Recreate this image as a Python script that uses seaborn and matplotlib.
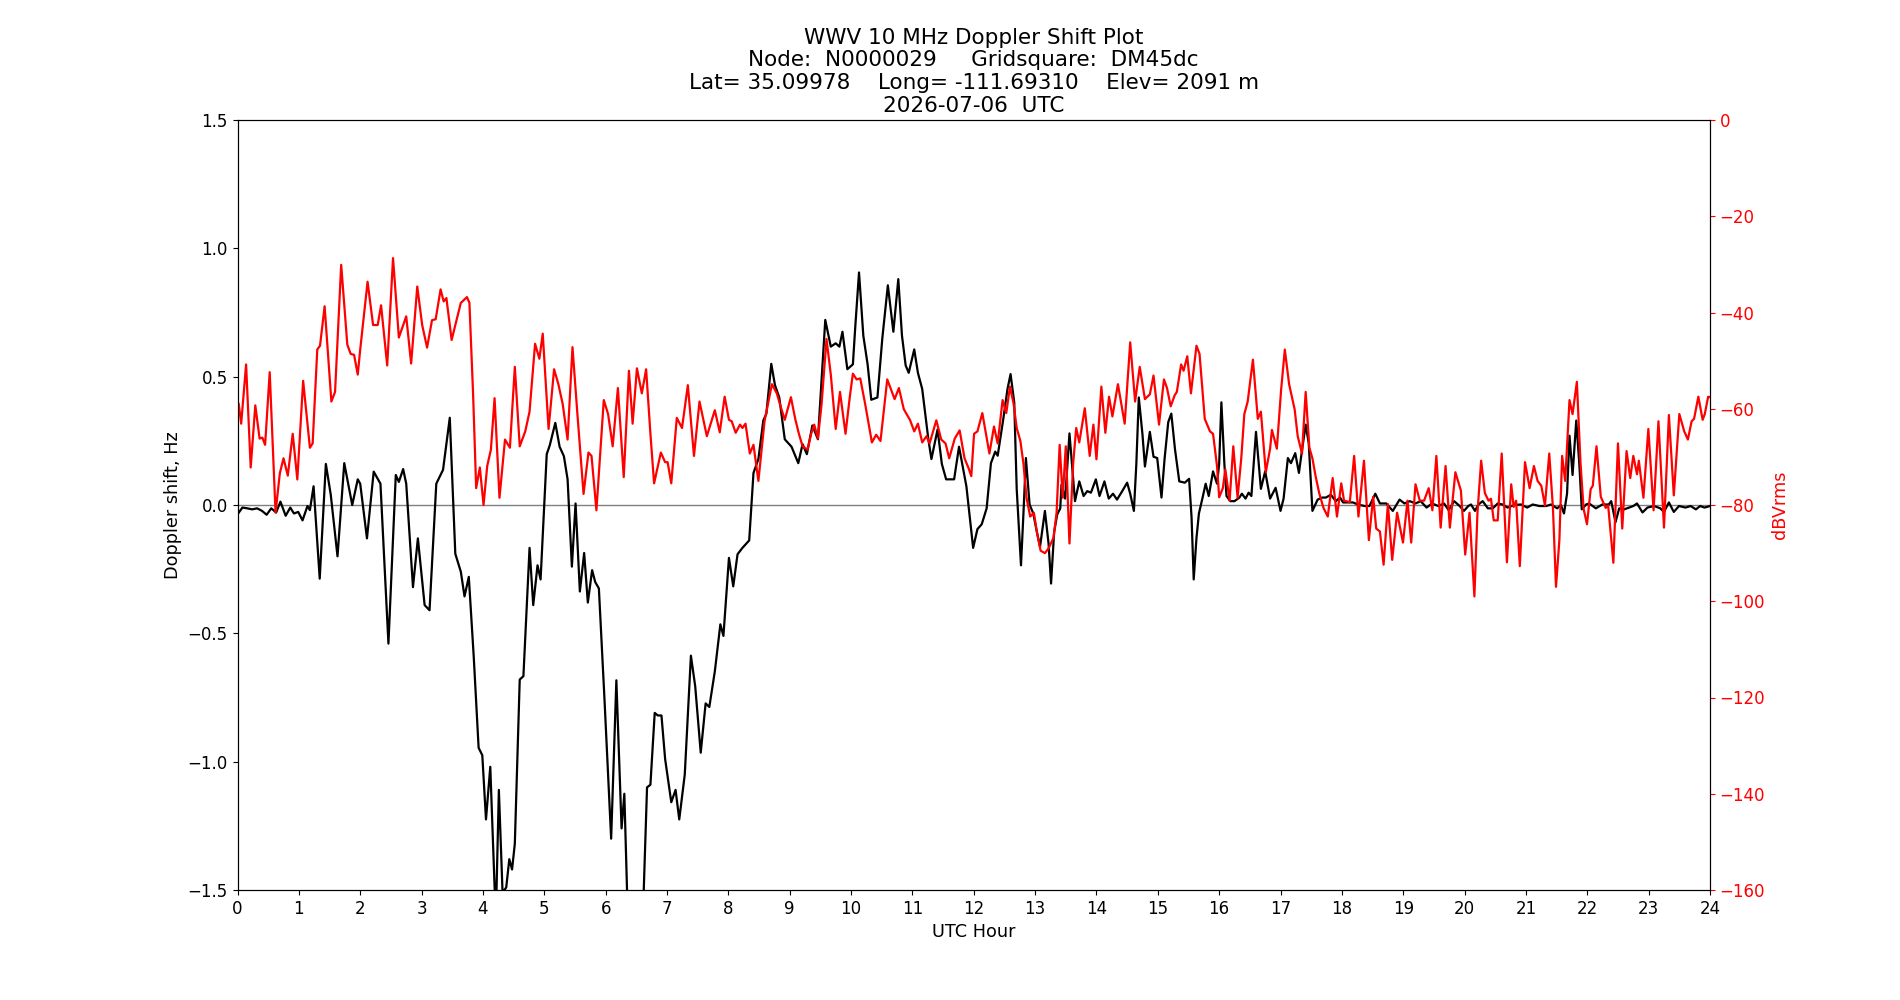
import pandas as pd
import matplotlib
matplotlib.use("Agg")

import matplotlib.pyplot as plt
import seaborn as sns

# doppler trace (black), hours UTC / Hz
doppler_hours = [
    0.02, 0.08, 0.16, 0.24, 0.32, 0.40, 0.475, 0.55, 0.63, 0.70, 0.785, 0.86, 0.92, 0.99,
    1.06, 1.14, 1.18, 1.24, 1.34, 1.44, 1.52, 1.63, 1.74, 1.87, 1.96, 2.0, 2.11, 2.22,
    2.33, 2.46, 2.58, 2.63, 2.70, 2.75, 2.86, 2.94, 3.05, 3.13, 3.24, 3.35, 3.46, 3.55,
    3.64, 3.70, 3.77, 3.85, 3.93, 3.99, 4.05, 4.12, 4.21, 4.26, 4.32, 4.38, 4.43, 4.475,
    4.52, 4.60, 4.66, 4.76, 4.82, 4.89, 4.94, 5.04, 5.09, 5.18, 5.25, 5.32, 5.38, 5.45,
    5.51, 5.58, 5.65, 5.71, 5.78, 5.83, 5.89, 5.98, 6.09, 6.175, 6.26, 6.305, 6.35, 6.48,
    6.62, 6.675, 6.73, 6.80, 6.85, 6.91, 6.97, 7.07, 7.14, 7.20, 7.29, 7.39, 7.46, 7.55,
    7.63, 7.69, 7.78, 7.87, 7.92, 8.01, 8.08, 8.15, 8.23, 8.34, 8.41, 8.49, 8.57, 8.62,
    8.70, 8.76, 8.83, 8.92, 9.03, 9.14, 9.21, 9.28, 9.37, 9.46, 9.58, 9.67, 9.75, 9.81,
    9.86, 9.94, 10.03, 10.07, 10.13, 10.20, 10.27, 10.33, 10.43, 10.51, 10.60, 10.69, 10.77, 10.83,
    10.89, 10.94, 11.03, 11.09, 11.16, 11.26, 11.31, 11.41, 11.48, 11.55, 11.64, 11.68, 11.76, 11.83,
    11.88, 11.99, 12.06, 12.13, 12.21, 12.28, 12.35, 12.39, 12.48, 12.55, 12.60, 12.66, 12.70, 12.77,
    12.81, 12.85, 12.91, 12.97, 13.02, 13.08, 13.16, 13.22, 13.26, 13.31, 13.36, 13.41, 13.43, 13.49,
    13.56, 13.65, 13.72, 13.79, 13.85, 13.91, 13.99, 14.05, 14.13, 14.20, 14.27, 14.335, 14.42, 14.50,
    14.55, 14.61, 14.65, 14.69, 14.75, 14.79, 14.87, 14.93, 14.99, 15.06, 15.11, 15.17, 15.22, 15.28,
    15.35, 15.44, 15.51, 15.55, 15.585, 15.63, 15.67, 15.73, 15.78, 15.83, 15.90, 15.965, 16.0, 16.036,
    16.085, 16.12, 16.18, 16.25, 16.33, 16.37, 16.43, 16.48, 16.525, 16.60, 16.68, 16.75, 16.83, 16.92,
    17.0, 17.05, 17.12, 17.17, 17.24, 17.30, 17.35, 17.41, 17.46, 17.52, 17.605, 17.68, 17.74, 17.82,
    17.90, 17.97, 18.02, 18.10, 18.18, 18.26, 18.37, 18.45, 18.545, 18.62, 18.725, 18.83, 18.94, 19.02,
    19.105, 19.20, 19.285, 19.38, 19.47, 19.57, 19.665, 19.74, 19.83, 19.92, 19.99, 20.06, 20.105, 20.17,
    20.225, 20.295, 20.38, 20.46, 20.54, 20.62, 20.70, 20.81, 20.92, 21.02, 21.11, 21.22, 21.33, 21.41,
    21.51, 21.57, 21.62, 21.67, 21.71, 21.76, 21.82, 21.87, 21.91, 21.98, 22.03, 22.14, 22.245, 22.35,
    22.39, 22.46, 22.52, 22.60, 22.68, 22.75, 22.81, 22.90, 22.98, 23.09, 23.19, 23.25, 23.33, 23.41,
    23.495, 23.60, 23.685, 23.77, 23.84, 23.91, 24.0,
]
doppler_hz = [
    -0.03, -0.01, -0.013, -0.017, -0.013, -0.023, -0.038, -0.013, -0.029, 0.013, -0.042, -0.01, -0.033, -0.027,
    -0.06, -0.004, -0.02, 0.073, -0.287, 0.16, 0.04, -0.2, 0.163, 0.0, 0.10, 0.083, -0.13, 0.13,
    0.083, -0.54, 0.117, 0.09, 0.14, 0.083, -0.32, -0.13, -0.39, -0.41, 0.083, 0.137, 0.34, -0.19,
    -0.26, -0.356, -0.28, -0.59, -0.946, -0.975, -1.225, -1.02, -1.62, -1.11, -1.51, -1.49, -1.38, -1.42,
    -1.32, -0.68, -0.667, -0.167, -0.39, -0.235, -0.29, 0.198, 0.233, 0.32, 0.227, 0.19, 0.10, -0.24,
    0.006, -0.337, -0.187, -0.38, -0.254, -0.30, -0.325, -0.75, -1.30, -0.683, -1.26, -1.125, -1.51, -1.76,
    -1.51, -1.10, -1.09, -0.81, -0.82, -0.82, -0.99, -1.158, -1.11, -1.225, -1.05, -0.587, -0.706, -0.965,
    -0.773, -0.787, -0.648, -0.465, -0.51, -0.206, -0.317, -0.192, -0.167, -0.138, 0.125, 0.179, 0.329, 0.356,
    0.55, 0.467, 0.419, 0.256, 0.227, 0.163, 0.237, 0.198, 0.31, 0.256, 0.721, 0.617, 0.63, 0.617,
    0.675, 0.529, 0.548, 0.698, 0.906, 0.66, 0.548, 0.41, 0.419, 0.65, 0.856, 0.675, 0.88, 0.66,
    0.544, 0.515, 0.606, 0.515, 0.452, 0.256, 0.179, 0.294, 0.16, 0.10, 0.10, 0.10, 0.227, 0.137,
    0.073, -0.167, -0.094, -0.075, -0.013, 0.163, 0.208, 0.192, 0.333, 0.452, 0.51, 0.40, 0.063, -0.235,
    -0.033, 0.183, 0.002, -0.033, -0.094, -0.163, -0.023, -0.152, -0.306, -0.106, -0.037, -0.013, 0.079, 0.025,
    0.279, 0.015, 0.092, 0.035, 0.054, 0.048, 0.10, 0.035, 0.092, 0.025, 0.044, 0.021, 0.054, 0.087,
    0.044, -0.023, 0.16, 0.419, 0.275, 0.15, 0.285, 0.188, 0.183, 0.029, 0.179, 0.323, 0.356, 0.217,
    0.092, 0.087, 0.102, -0.048, -0.29, -0.129, -0.033, 0.029, 0.083, 0.035, 0.131, 0.083, 0.16, 0.40,
    0.16, 0.035, 0.015, 0.015, 0.029, 0.044, 0.025, 0.048, 0.035, 0.285, 0.063, 0.131, 0.025, 0.067,
    -0.023, 0.025, 0.183, 0.163, 0.202, 0.125, 0.213, 0.313, 0.24, -0.023, 0.021, 0.029, 0.029, 0.04,
    0.015, 0.029, 0.01, 0.01, 0.01, 0.002, -0.004, -0.004, 0.044, 0.006, 0.006, -0.023, 0.021, 0.006,
    0.015, 0.006, 0.015, -0.01, 0.006, -0.004, 0.006, -0.02, 0.015, -0.004, -0.023, -0.004, 0.002, -0.023,
    0.002, 0.015, -0.013, -0.013, 0.006, 0.002, -0.01, 0.0, 0.002, -0.01, 0.002, -0.004, -0.004, 0.002,
    -0.013, 0.0, -0.033, 0.044, 0.27, 0.117, 0.329, 0.16, -0.017, 0.002, 0.006, -0.013, 0.002, 0.002,
    0.015, -0.067, -0.013, -0.017, -0.01, -0.004, 0.006, -0.029, -0.01, -0.004, -0.013, -0.027, 0.01, -0.027,
    -0.004, -0.01, -0.004, -0.017, -0.004, -0.01, -0.004,
]

# signal level trace (red), hours UTC / dBVrms
power_hours = [
    0.02, 0.06, 0.14, 0.215, 0.29, 0.36, 0.405, 0.45, 0.525, 0.62, 0.69, 0.75, 0.82, 0.90,
    0.975, 1.07, 1.18, 1.225, 1.30, 1.345, 1.42, 1.53, 1.59, 1.69, 1.79, 1.845, 1.90, 1.96,
    2.0, 2.12, 2.21, 2.285, 2.34, 2.44, 2.535, 2.63, 2.75, 2.83, 2.93, 3.01, 3.09, 3.17,
    3.23, 3.31, 3.36, 3.405, 3.49, 3.57, 3.64, 3.74, 3.78, 3.84, 3.89, 3.95, 4.01, 4.07,
    4.13, 4.19, 4.27, 4.36, 4.44, 4.52, 4.60, 4.69, 4.76, 4.85, 4.92, 4.975, 5.07, 5.16,
    5.23, 5.30, 5.38, 5.46, 5.54, 5.64, 5.72, 5.77, 5.85, 5.97, 6.04, 6.115, 6.20, 6.295,
    6.38, 6.44, 6.51, 6.59, 6.66, 6.73, 6.79, 6.90, 6.97, 7.01, 7.07, 7.16, 7.245, 7.34,
    7.44, 7.53, 7.65, 7.78, 7.86, 7.94, 8.01, 8.055, 8.12, 8.19, 8.23, 8.28, 8.35, 8.41,
    8.49, 8.59, 8.71, 8.79, 8.84, 8.92, 9.02, 9.09, 9.15, 9.21, 9.29, 9.35, 9.40, 9.46,
    9.52, 9.60, 9.67, 9.75, 9.82, 9.91, 9.98, 10.03, 10.09, 10.15, 10.23, 10.34, 10.41, 10.48,
    10.59, 10.71, 10.78, 10.86, 10.96, 11.03, 11.09, 11.16, 11.23, 11.28, 11.39, 11.47, 11.54, 11.60,
    11.69, 11.77, 11.85, 11.92, 11.96, 12.005, 12.06, 12.14, 12.255, 12.33, 12.39, 12.47, 12.53, 12.59,
    12.65, 12.70, 12.76, 12.81, 12.86, 12.92, 12.98, 13.03, 13.09, 13.16, 13.22, 13.30, 13.35, 13.40,
    13.45, 13.50, 13.56, 13.62, 13.67, 13.72, 13.81, 13.89, 13.95, 14.0, 14.08, 14.145, 14.205, 14.26,
    14.35, 14.46, 14.55, 14.63, 14.705, 14.79, 14.87, 14.93, 15.02, 15.10, 15.15, 15.21, 15.275, 15.31,
    15.38, 15.42, 15.48, 15.54, 15.63, 15.68, 15.765, 15.85, 15.90, 15.965, 16.0, 16.06, 16.10, 16.17,
    16.23, 16.30, 16.36, 16.41, 16.465, 16.55, 16.63, 16.68, 16.76, 16.83, 16.86, 16.94, 17.01, 17.07,
    17.14, 17.23, 17.28, 17.35, 17.41, 17.47, 17.52, 17.57, 17.63, 17.70, 17.77, 17.85, 17.92, 17.99,
    18.035, 18.13, 18.20, 18.27, 18.36, 18.44, 18.51, 18.56, 18.62, 18.68, 18.75, 18.82, 18.90, 18.996,
    19.07, 19.13, 19.20, 19.27, 19.34, 19.415, 19.475, 19.54, 19.61, 19.69, 19.76, 19.85, 19.94, 20.01,
    20.08, 20.16, 20.21, 20.27, 20.33, 20.39, 20.43, 20.475, 20.54, 20.605, 20.69, 20.76, 20.80, 20.84,
    20.90, 20.985, 21.06, 21.13, 21.19, 21.25, 21.31, 21.38, 21.44, 21.49, 21.545, 21.59, 21.64, 21.71,
    21.76, 21.83, 21.89, 21.94, 21.995, 22.055, 22.09, 22.15, 22.22, 22.30, 22.34, 22.425, 22.50, 22.57,
    22.64, 22.70, 22.75, 22.81, 22.84, 22.915, 22.995, 23.08, 23.16, 23.25, 23.33, 23.41, 23.50, 23.58,
    23.64, 23.70, 23.74, 23.81, 23.88, 23.915, 23.97, 24.0,
]
power_db = [
    -59.0, -63.1, -50.8, -72.2, -59.3, -66.2, -66.0, -67.5, -52.4, -81.6, -73.4, -70.3, -73.9, -65.2,
    -74.7, -54.2, -68.1, -67.2, -47.7, -46.9, -38.7, -58.5, -56.5, -30.1, -46.7, -48.6, -48.8, -52.9,
    -47.7, -33.6, -42.6, -42.6, -38.5, -51.0, -28.7, -45.2, -40.8, -50.6, -34.6, -42.6, -47.3, -41.6,
    -41.4, -35.2, -37.7, -37.0, -45.7, -41.6, -38.0, -36.8, -38.0, -57.0, -76.5, -72.2, -80.0, -71.9,
    -68.5, -57.8, -78.5, -66.4, -68.1, -51.3, -67.8, -64.7, -60.6, -46.5, -49.6, -44.4, -64.2, -51.8,
    -54.9, -59.0, -66.4, -47.2, -61.1, -77.7, -69.1, -69.8, -81.1, -58.2, -61.1, -67.8, -55.7, -74.2,
    -52.1, -63.1, -51.6, -56.8, -51.8, -65.2, -75.5, -69.1, -71.1, -71.1, -75.5, -61.9, -64.0, -55.1,
    -69.8, -58.5, -65.7, -60.3, -64.9, -57.5, -62.3, -62.6, -65.0, -63.3, -64.0, -63.1, -69.3, -67.5,
    -75.0, -62.6, -54.9, -56.8, -59.0, -62.3, -57.6, -62.1, -65.2, -67.8, -68.5, -65.2, -63.3, -66.2,
    -59.0, -45.5, -52.9, -64.2, -56.5, -65.2, -57.5, -52.7, -53.9, -53.7, -59.0, -67.0, -65.4, -66.7,
    -53.9, -58.0, -55.7, -60.1, -62.3, -64.7, -63.1, -67.0, -65.7, -67.2, -62.4, -66.4, -67.2, -70.3,
    -66.2, -64.5, -70.3, -72.5, -74.0, -65.2, -64.7, -60.9, -69.3, -63.7, -67.2, -58.2, -60.9, -55.4,
    -59.0, -64.0, -66.7, -71.4, -78.5, -82.4, -81.6, -85.7, -89.5, -90.0, -89.0, -86.8, -81.6, -67.5,
    -78.5, -67.8, -88.0, -71.4, -64.0, -67.0, -59.9, -69.8, -63.3, -70.5, -55.4, -65.0, -57.5, -61.6,
    -54.9, -63.1, -46.2, -58.5, -51.3, -58.0, -57.0, -53.1, -63.3, -53.9, -55.7, -59.5, -57.2, -56.5,
    -50.8, -52.1, -49.1, -56.8, -46.9, -48.6, -62.1, -64.7, -65.2, -71.9, -78.4, -76.5, -72.6, -79.1,
    -67.8, -78.5, -70.3, -61.1, -58.5, -49.8, -62.1, -60.6, -73.2, -68.3, -64.4, -68.3, -56.0, -47.7,
    -54.9, -60.1, -65.7, -69.3, -56.5, -68.1, -70.3, -73.9, -77.5, -80.6, -82.4, -74.4, -82.4, -75.5,
    -79.1, -79.4, -69.8, -82.4, -70.8, -87.3, -78.3, -84.9, -85.5, -92.4, -79.8, -91.4, -81.6, -87.8,
    -79.1, -87.8, -75.7, -79.1, -79.1, -76.5, -81.1, -69.8, -84.7, -71.9, -84.7, -73.2, -77.0, -90.3,
    -81.6, -99.0, -81.6, -70.8, -77.5, -79.1, -78.7, -83.2, -83.2, -69.3, -91.9, -75.7, -80.4, -79.1,
    -92.7, -71.1, -76.5, -71.9, -75.0, -76.0, -80.1, -69.3, -80.6, -97.0, -87.3, -69.8, -75.0, -58.2,
    -61.1, -54.4, -71.4, -80.8, -84.0, -76.7, -76.0, -67.8, -78.3, -80.6, -80.1, -92.0, -67.2, -84.9,
    -68.8, -74.4, -69.8, -73.6, -70.8, -78.5, -64.2, -81.1, -62.6, -84.7, -61.3, -78.0, -61.1, -64.7,
    -66.4, -62.6, -62.1, -57.5, -62.3, -61.1, -57.5, -57.6,
]

doppler = pd.DataFrame({"hour": doppler_hours, "shift": doppler_hz})
power = pd.DataFrame({"hour": power_hours, "level": power_db})

fig, ax = plt.subplots(figsize=(19, 10), dpi=100)

ax.axhline(0, color="grey", lw=1)
sns.lineplot(data=doppler, x="hour", y="shift", ax=ax, color="black",
             lw=1.6, sort=False, estimator=None)
ax.set_xlim(0, 24)
ax.set_ylim(-1.5, 1.5)
ax.set_xticks(range(0, 25))
ax.set_xlabel("UTC Hour", fontsize=12.7)
ax.set_ylabel("Doppler shift, Hz", fontsize=12.7)
ax.tick_params(labelsize=12)

# second axis for signal level
ax2 = ax.twinx()
sns.lineplot(data=power, x="hour", y="level", ax=ax2, color="red",
             lw=1.6, sort=False, estimator=None)
ax2.set_ylim(-160, 0)
ax2.set_xlim(0, 24)
ax2.set_ylabel("dBVrms", color="red", fontsize=12.7)
ax2.tick_params(axis="y", labelcolor="red", color="red", labelsize=12)

ax.set_title("WWV 10 MHz Doppler Shift Plot\n"
             "Node:  N0000029     Gridsquare:  DM45dc\n"
             "Lat= 35.09978    Long= -111.69310    Elev= 2091 m\n"
             "2026-07-06  UTC", fontsize=15.5, linespacing=1.17)

plt.savefig("out.png")
